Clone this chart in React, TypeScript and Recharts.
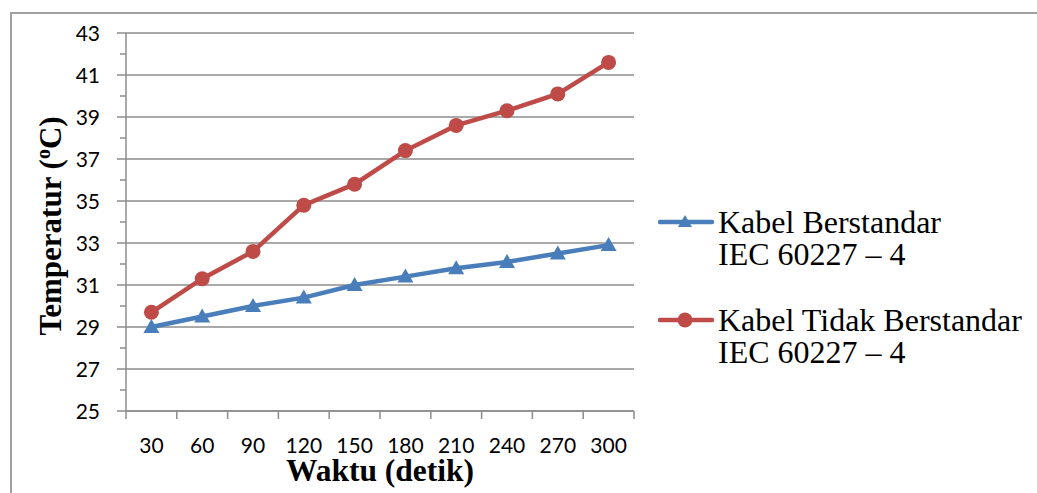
import React from 'react';
import { LineChart, Line, XAxis, YAxis, CartesianGrid } from 'recharts';

const WAKTU = [30, 60, 90, 120, 150, 180, 210, 240, 270, 300];
const BERSTANDAR = [29.0, 29.5, 30.0, 30.4, 31.0, 31.4, 31.8, 32.1, 32.5, 32.9];
const TIDAK_BERSTANDAR = [29.7, 31.3, 32.6, 34.8, 35.8, 37.4, 38.6, 39.3, 40.1, 41.6];
const Y_MAJOR = [25, 27, 29, 31, 33, 35, 37, 39, 41, 43];
const Y_ALL = [25, 26, 27, 28, 29, 30, 31, 32, 33, 34, 35, 36, 37, 38, 39, 40, 41, 42, 43];

const data = WAKTU.map((t, i) => ({
  t,
  standar: BERSTANDAR[i],
  tidak: TIDAK_BERSTANDAR[i],
}));

const W = 1037;
const H = 493;
const PLOT_LEFT = 126;
const PLOT_TOP = 33;
const PLOT_RIGHT = 634;
const PLOT_BOTTOM = 411;
const BAND = (PLOT_RIGHT - PLOT_LEFT) / WAKTU.length;

const BLUE = '#4a7ebb';
const RED = '#be4b48';
const GRID = '#8c8c8c';
const TICK_FONT = 'Lato, "Open Sans", sans-serif';
const SERIF = '"Liberation Serif", "Times New Roman", serif';

const SERIES = [
  { key: 'standar', name: 'Kabel Berstandar', color: BLUE, marker: 'triangle' },
  { key: 'tidak', name: 'Kabel Tidak Berstandar', color: RED, marker: 'circle' },
];

const XTick = (props: any) => {
  const { payload, index } = props;
  const cx = payload.coordinate;
  const left = cx - BAND / 2;
  return (
    <g>
      <line x1={left} x2={left} y1={PLOT_BOTTOM} y2={PLOT_BOTTOM + 8} stroke={GRID} strokeWidth={1.5} />
      {index === WAKTU.length - 1 && (
        <line x1={cx + BAND / 2} x2={cx + BAND / 2} y1={PLOT_BOTTOM} y2={PLOT_BOTTOM + 8} stroke={GRID} strokeWidth={1.5} />
      )}
      <text x={cx} y={453} textAnchor="middle" fontFamily={TICK_FONT} fontSize={21} fill="#000">
        {payload.value}
      </text>
    </g>
  );
};

const YTick = (props: any) => {
  const { payload } = props;
  const cy = payload.coordinate;
  const major = Y_MAJOR.includes(payload.value);
  return (
    <g>
      <line x1={PLOT_LEFT - (major ? 9 : 6)} x2={PLOT_LEFT} y1={cy} y2={cy} stroke={GRID} strokeWidth={1.5} />
      {major && (
        <text x={100} y={cy + 8} textAnchor="end" fontFamily={TICK_FONT} fontSize={21} fill="#000">
          {payload.value}
        </text>
      )}
    </g>
  );
};

const YTitle = () => (
  <text
    x={61}
    y={226}
    transform="rotate(-90, 61, 226)"
    textAnchor="middle"
    fontFamily={SERIF}
    fontWeight="bold"
    fontSize={31}
    fill="#000"
  >
    Temperatur (<tspan fontSize={20} dy={-11}>o</tspan><tspan dy={11}>C)</tspan>
  </text>
);

const XTitle = () => (
  <text x={380} y={481} textAnchor="middle" fontFamily={SERIF} fontWeight="bold" fontSize={31.5} fill="#000">
    Waktu (detik)
  </text>
);

const Triangle = (props: any) => {
  const { cx, cy, fill } = props;
  if (cx == null || cy == null) return null;
  return <path d={`M${cx},${cy - 8} L${cx + 8},${cy + 6} L${cx - 8},${cy + 6} Z`} fill={fill} />;
};

const Circle = (props: any) => {
  const { cx, cy, fill } = props;
  if (cx == null || cy == null) return null;
  return <circle cx={cx} cy={cy} r={7.5} fill={fill} />;
};

// legend sits to the right of the plot, outside the chart's own layout
const SideLegend = () => (
  <div style={{ position: 'absolute', left: 658, top: 206 }}>
    {SERIES.map((s) => (
      <div key={s.key} style={{ display: 'flex', alignItems: 'flex-start', marginBottom: 34 }}>
        <svg width={56} height={32} style={{ flexShrink: 0 }}>
          <line x1={2} x2={54} y1={16} y2={16} stroke={s.color} strokeWidth={4.5} strokeLinecap="round" />
          {s.marker === 'triangle' ? (
            <path d="M27,9 L34,21 L20,21 Z" fill={s.color} />
          ) : (
            <circle cx={27} cy={16} r={7.5} fill={s.color} />
          )}
        </svg>
        <div
          style={{
            marginLeft: 4,
            fontFamily: SERIF,
            fontSize: 32,
            lineHeight: '32px',
            color: '#000',
            whiteSpace: 'nowrap',
          }}
        >
          {s.name}
          <br />
          IEC 60227 – 4
        </div>
      </div>
    ))}
  </div>
);

export default function App() {
  return (
    <div style={{ position: 'absolute', left: 0, top: 0, width: W, height: H, background: '#fff', overflow: 'hidden' }}>
      <div
        style={{
          position: 'absolute',
          left: 10,
          top: 12,
          width: W,
          height: H,
          borderLeft: '2px solid #a0a0a0',
          borderTop: '2px solid #a0a0a0',
        }}
      />
      <LineChart
        width={W}
        height={H}
        data={data}
        margin={{ top: PLOT_TOP, right: W - PLOT_RIGHT, bottom: H - PLOT_BOTTOM - 60, left: PLOT_LEFT - 100 }}
        style={{ position: 'absolute', left: 0, top: 0 }}
      >
        <CartesianGrid vertical={false} horizontalValues={Y_MAJOR} stroke={GRID} strokeWidth={1.5} />
        <XAxis
          dataKey="t"
          type="category"
          scale="band"
          height={60}
          axisLine={{ stroke: GRID, strokeWidth: 1.5 }}
          tickLine={false}
          tick={<XTick />}
          interval={0}
          label={<XTitle />}
        />
        <YAxis
          type="number"
          width={100}
          domain={[25, 43]}
          ticks={Y_ALL}
          interval={0}
          axisLine={{ stroke: GRID, strokeWidth: 1.5 }}
          tickLine={false}
          tick={<YTick />}
          label={<YTitle />}
        />
        {SERIES.map((s) => (
          <Line
            key={s.key}
            dataKey={s.key}
            name={s.name}
            stroke={s.color}
            strokeWidth={4.5}
            dot={s.marker === 'triangle' ? <Triangle fill={s.color} /> : <Circle fill={s.color} />}
            activeDot={false}
            isAnimationActive={false}
          />
        ))}
      </LineChart>
      <SideLegend />
    </div>
  );
}
